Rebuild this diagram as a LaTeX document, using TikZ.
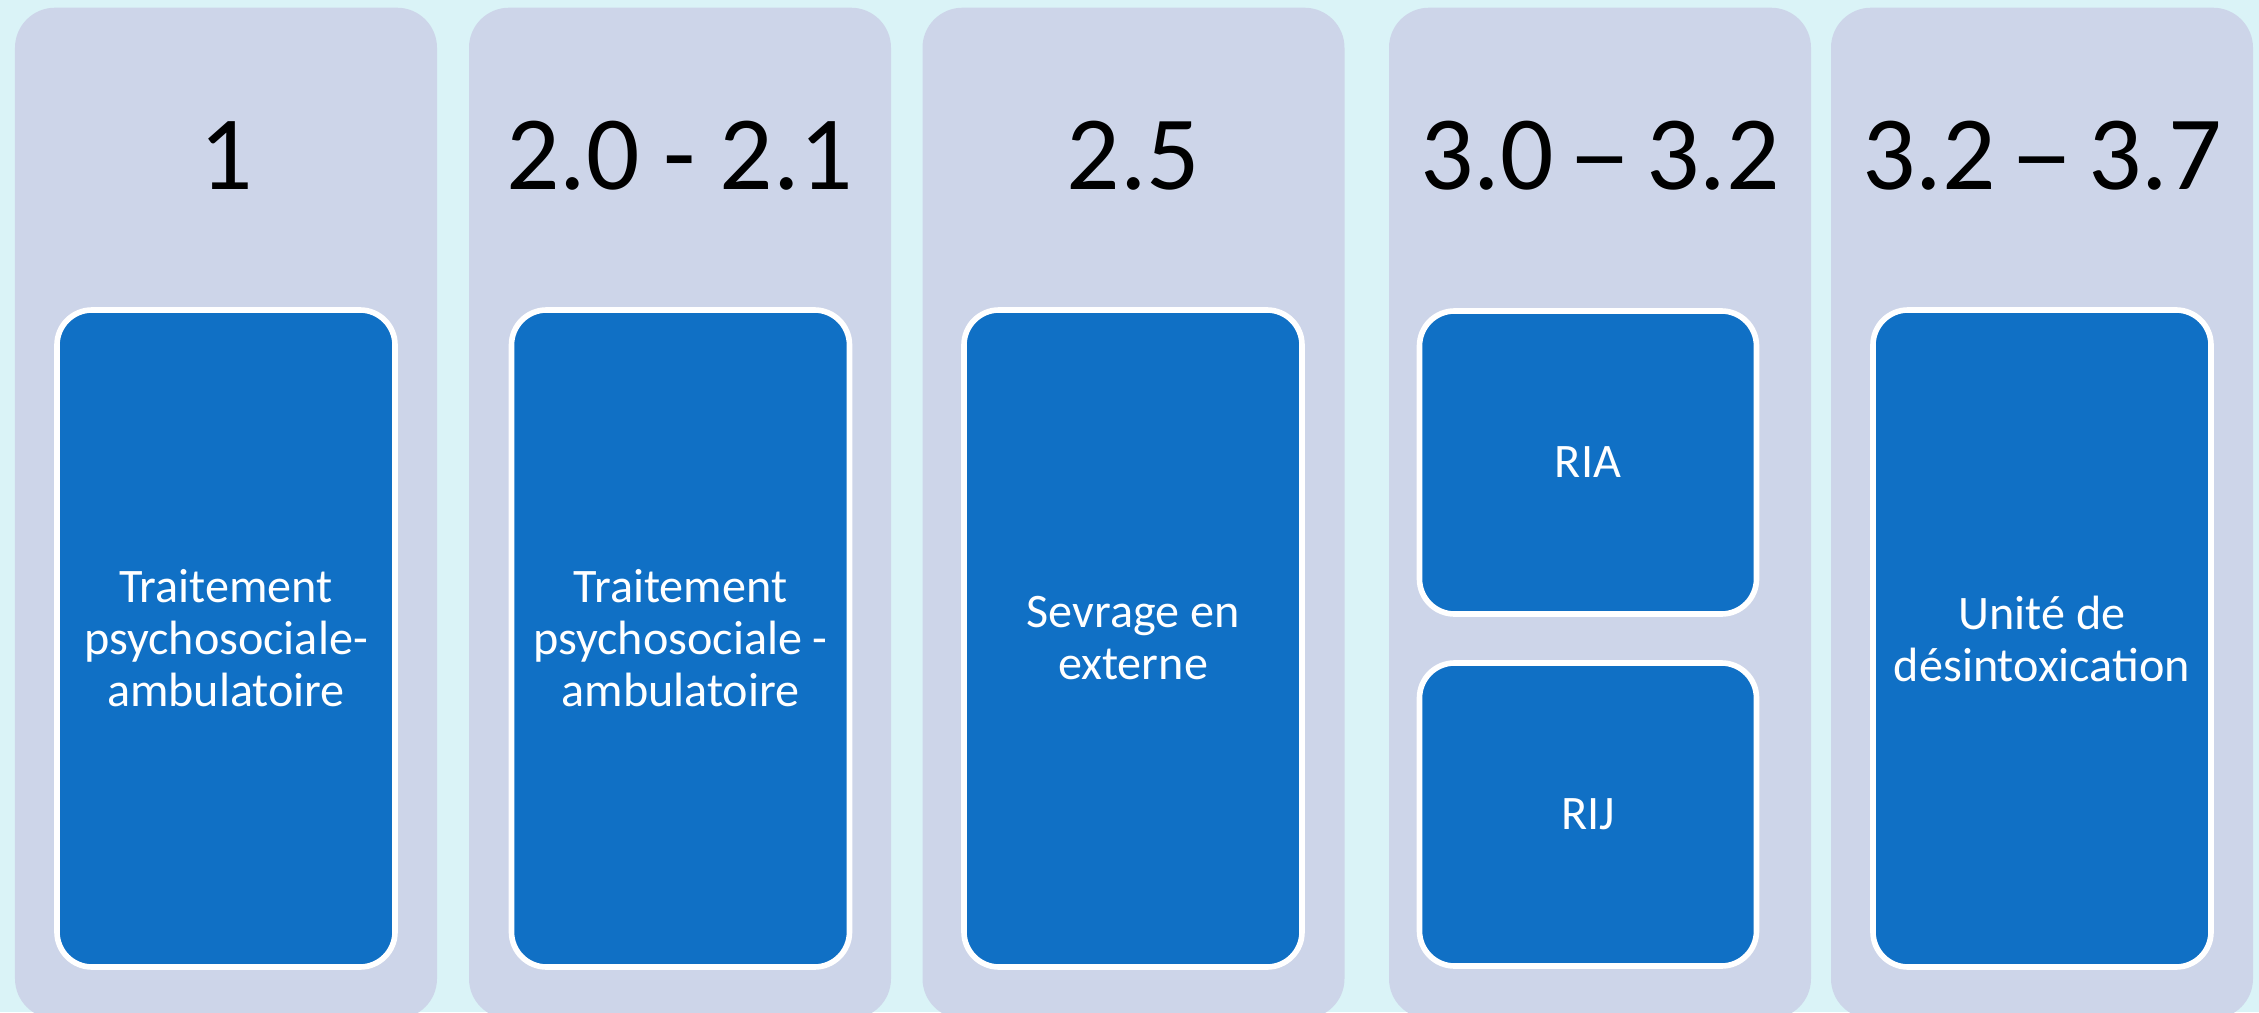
\documentclass[tikz,border=0pt]{standalone}
\usepackage{fontspec}
\usepackage{graphicx}
\setmainfont{Carlito}
\definecolor{fond}{RGB}{218,243,247}
\definecolor{colonne}{RGB}{205,213,233}
\definecolor{bleu}{RGB}{16,112,197}
\newcommand{\tiret}{\hspace{0.14em}\scalebox{1.2}[1]{–}\hspace{0.14em}}
\tikzset{
  colonne/.style={fill=colonne, rounded corners=0.4cm, inner sep=0pt, anchor=north,
    minimum width=4.22cm, minimum height=10.11cm},
  niveau/.style={anchor=base, font=\fontsize{30}{36}\selectfont},
  boite/.style={draw=white, line width=1.6pt, fill=bleu, rounded corners=0.35cm,
    minimum width=3.38cm, text=white, align=center, font=\fontsize{13.7}{14.8}\selectfont},
}
\begin{document}
\begin{tikzpicture}
\def\haut{10.12}
\def\larg{22.59}

\useasboundingbox (0,0) rectangle (\larg,\haut);
\clip (0,0) rectangle (\larg,\haut);
\fill[fond] (0,0) rectangle (\larg,\haut);

%%%%%%%%%%%%%-------------colonnes et niveaux
\foreach \i/\x/\niv in {1/2.26/1, 2/6.80/{2.0 - 2.1}, 3/11.335/2.5, 4/16.00/{3.0\tiret3.2}, 5/20.42/{3.2\tiret3.7}}{
\node[colonne] (col\i) at (\x,10.05) {};
\node[niveau] (niv\i) at (\x,8.23) {\niv};}

%%%%%%%%%%%%%-------------services
\node[boite, minimum height=6.57cm] (b1) at (2.26,3.735) {Traitement\\psychosociale-\\ambulatoire};
\node[boite, minimum height=6.57cm] (b2) at (6.805,3.735) {Traitement\\psychosociale -\\ambulatoire};
\node[boite, minimum height=6.57cm] (b3) at (11.33,3.735) {Sevrage en\\externe};
\node[boite, minimum width=3.37cm, minimum height=3.03cm] (ria) at (15.88,5.495) {RIA};
\node[boite, minimum width=3.37cm, minimum height=3.03cm] (rij) at (15.88,1.975) {RIJ};
\node[boite, minimum height=6.57cm] (b5) at (20.42,3.735) {Unité de\\désintoxication};

\end{tikzpicture}
\end{document}
